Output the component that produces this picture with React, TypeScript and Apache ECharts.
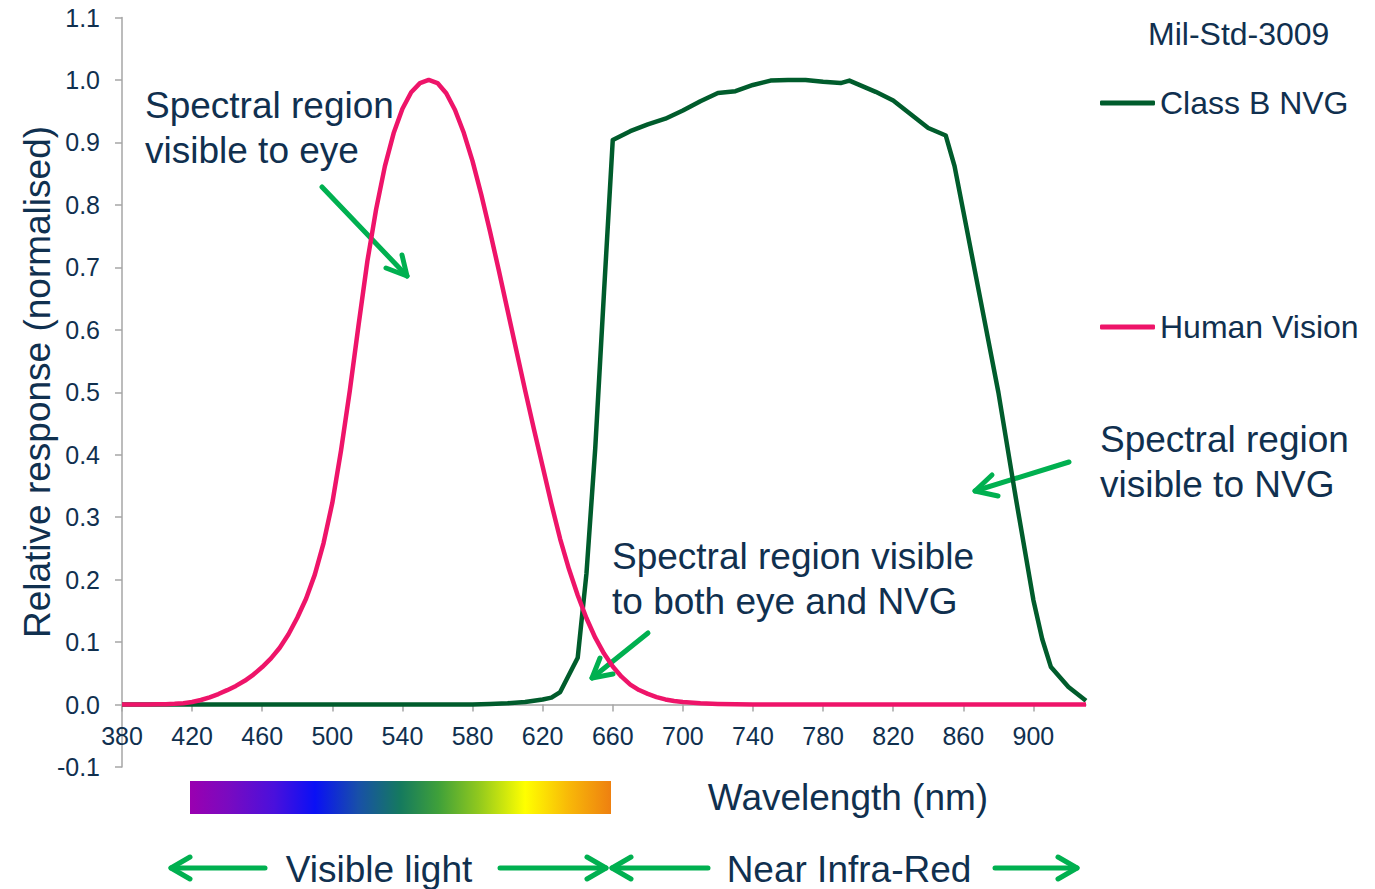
import React, { useEffect, useRef } from 'react';
import * as echarts from 'echarts';

// ---------- data ----------
const nvgWavelength = [
  380, 400, 450, 500, 550, 580, 590, 600, 610, 620, 625, 630, 640, 645, 650, 655, 660,
  670, 680, 690, 700, 710, 720, 730, 740, 750, 760, 770, 780, 790, 795, 800, 810, 820,
  830, 840, 850, 855, 860, 870, 880, 890, 900, 905, 910, 920, 930,
];
const nvgResponse = [
  0, 0, 0, 0, 0, 0, 0.001, 0.002, 0.004, 0.008, 0.011, 0.02, 0.075, 0.21, 0.41, 0.66, 0.904,
  0.918, 0.929, 0.938, 0.951, 0.966, 0.979, 0.982, 0.992, 0.999, 1.0, 1.0, 0.997, 0.995, 0.999, 0.993, 0.981, 0.967,
  0.945, 0.923, 0.911, 0.862, 0.79, 0.645, 0.5, 0.33, 0.167, 0.105, 0.06, 0.028, 0.006,
];

const eyeWavelength = [
  380, 385, 390, 395, 400, 405, 410, 415, 420, 425, 430, 435, 440, 445, 450, 455, 460, 465,
  470, 475, 480, 485, 490, 495, 500, 505, 510, 515, 520, 525, 530, 535, 540, 545, 550, 555,
  560, 565, 570, 575, 580, 585, 590, 595, 600, 605, 610, 615, 620, 625, 630, 635, 640, 645,
  650, 655, 660, 665, 670, 675, 680, 685, 690, 695, 700, 710, 720, 730, 740, 760, 800, 930,
];
const eyeResponse = [
  0.0, 0.0001, 0.0001, 0.0002, 0.0004, 0.0006, 0.0012, 0.0022, 0.004, 0.0073, 0.0116, 0.0168, 0.023, 0.0298, 0.038, 0.048, 0.06, 0.0739,
  0.091, 0.1126, 0.139, 0.1693, 0.208, 0.2586, 0.323, 0.4073, 0.503, 0.6082, 0.71, 0.7932, 0.862, 0.9149, 0.954, 0.9803, 0.995, 1.0,
  0.995, 0.9786, 0.952, 0.9154, 0.87, 0.8163, 0.757, 0.6949, 0.631, 0.5668, 0.503, 0.4412, 0.381, 0.321, 0.265, 0.217, 0.175, 0.1382,
  0.107, 0.0816, 0.061, 0.0446, 0.032, 0.0232, 0.017, 0.0119, 0.0082, 0.0057, 0.0041, 0.0021, 0.001, 0.0005, 0.0002, 0.0001, 0, 0,
];

const seriesNames = ['Class B NVG', 'Human Vision'];
const legendTitle = 'Mil-Std-3009';
const xAxisTitle = 'Wavelength (nm)';
const yAxisTitle = 'Relative response (normalised)';
const xMin = 380;
const xMax = 930;
const xStep = 40;
const yMin = -0.1;
const yMax = 1.1;
const yStep = 0.1;

// ---------- styling ----------
const FONT = '"Liberation Sans", Arial, Helvetica, sans-serif';
const NAVY = '#10304f';
const ARROW = '#00b050';
const NVG_COLOR = '#005c2c';
const EYE_COLOR = '#ee1469';
const AXIS_COLOR = '#a6a6a6';
const BIG = 37;

function txt(x: number, y: number, s: string, size = BIG, align = 'left') {
  return {
    type: 'text',
    x,
    y,
    silent: true,
    style: { text: s, fill: NAVY, fontSize: size, fontFamily: FONT, align, verticalAlign: 'middle' },
  };
}

function arrow(shaft: number[][], head: number[][]) {
  const st = { stroke: ARROW, lineWidth: 5, lineCap: 'round', lineJoin: 'round', fill: null };
  return [
    { type: 'polyline', silent: true, shape: { points: shaft }, style: st },
    { type: 'polyline', silent: true, shape: { points: head }, style: st },
  ];
}

export default function App() {
  const ref = useRef<HTMLDivElement>(null);

  useEffect(() => {
    if (!ref.current) return;
    const chart = echarts.init(ref.current, null, { renderer: 'svg' });

    const nvgData = nvgWavelength.map((w, i) => [w, nvgResponse[i]]);
    const eyeData = eyeWavelength.map((w, i) => [w, eyeResponse[i]]);

    const gridTop = 17.5;
    const gridBottom = 122;
    const plotH = 889 - gridTop - gridBottom;
    // distance from grid bottom edge up to the y = 0 line
    const zeroOffset = (plotH * (0 - yMin)) / (yMax - yMin);

    const graphics: any[] = [
      // colour spectrum bar
      {
        type: 'rect',
        silent: true,
        shape: { x: 190, y: 781, width: 421, height: 33 },
        style: {
          fill: new echarts.graphic.LinearGradient(0, 0, 1, 0, [
            { offset: 0, color: '#9a00b0' },
            { offset: 0.09, color: '#7a0ac0' },
            { offset: 0.2, color: '#4a10dc' },
            { offset: 0.297, color: '#0a10f5' },
            { offset: 0.4, color: '#1850a8' },
            { offset: 0.5, color: '#157a5e' },
            { offset: 0.59, color: '#3fa03a' },
            { offset: 0.685, color: '#90c81e' },
            { offset: 0.796, color: '#ffff00' },
            { offset: 0.9, color: '#f8b808' },
            { offset: 1, color: '#ee8010' },
          ]),
        },
      },
      {
        type: 'text',
        x: 37,
        y: 382,
        rotation: Math.PI / 2,
        silent: true,
        style: { text: yAxisTitle, fill: NAVY, fontSize: BIG, fontFamily: FONT, align: 'center', verticalAlign: 'middle' },
      },
      txt(1148, 34, legendTitle, 32),
      txt(145, 105, 'Spectral region'),
      txt(145, 150, 'visible to eye'),
      txt(612, 556, 'Spectral region visible'),
      txt(612, 601, 'to both eye and NVG'),
      txt(1100, 439, 'Spectral region'),
      txt(1100, 484, 'visible to NVG'),
      txt(848, 797, xAxisTitle, BIG, 'center'),
      txt(379, 869, 'Visible light', BIG, 'center'),
      txt(849, 869, 'Near Infra-Red', BIG, 'center'),
      ...arrow([[322, 187], [407, 276]], [[386, 268], [407, 276], [402, 255]]),
      ...arrow([[648, 633], [592, 678]], [[600, 658], [592, 678], [613, 674]]),
      ...arrow([[1069, 462], [975, 491]], [[992, 475], [975, 491], [998, 496]]),
      ...arrow([[265, 868], [171, 868]], [[190, 857], [171, 868], [190, 879]]),
      ...arrow([[500, 868], [606, 868]], [[587, 857], [606, 868], [587, 879]]),
      ...arrow([[708, 868], [612, 868]], [[631, 857], [612, 868], [631, 879]]),
      ...arrow([[995, 868], [1077, 868]], [[1058, 857], [1077, 868], [1058, 879]]),
    ];

    const legendCommon = {
      orient: 'vertical',
      left: 1100,
      padding: 0,
      icon: 'roundRect',
      itemWidth: 55,
      itemHeight: 5,
      itemGap: 0,
      selectedMode: false,
      textStyle: { fontSize: 32, color: NAVY, fontFamily: FONT, lineHeight: 36, padding: [0, 0, 0, 0] },
    };

    chart.setOption({
      animation: false,
      textStyle: { fontFamily: FONT },
      grid: { left: 122, right: 289, top: gridTop, bottom: gridBottom, containLabel: false },
      legend: [
        { ...legendCommon, top: 85, data: [seriesNames[0]] },
        { ...legendCommon, top: 309, data: [seriesNames[1]] },
      ],
      xAxis: {
        type: 'value',
        min: xMin,
        max: xMax,
        interval: xStep,
        position: 'bottom',
        offset: -zeroOffset,
        axisLine: { show: true, onZero: false, lineStyle: { color: AXIS_COLOR, width: 1.5 } },
        axisTick: { show: true, length: 7, lineStyle: { color: AXIS_COLOR, width: 1.5 } },
        axisLabel: { showMaxLabel: false, fontSize: 25, color: NAVY, margin: 19, fontFamily: FONT },
        splitLine: { show: false },
      },
      yAxis: {
        type: 'value',
        min: yMin,
        max: yMax,
        interval: yStep,
        axisLine: { show: true, onZero: false, lineStyle: { color: AXIS_COLOR, width: 1.5 } },
        axisTick: { show: true, length: 7, lineStyle: { color: AXIS_COLOR, width: 1.5 } },
        axisLabel: {
          fontSize: 25,
          color: NAVY,
          margin: 22,
          fontFamily: FONT,
          formatter: (v: number) => v.toFixed(1),
        },
        splitLine: { show: false },
      },
      graphic: graphics,
      series: [
        {
          name: seriesNames[0],
          type: 'line',
          data: nvgData,
          showSymbol: false,
          symbol: 'none',
          lineStyle: { color: NVG_COLOR, width: 4.5, join: 'round' },
          itemStyle: { color: NVG_COLOR },
        },
        {
          name: seriesNames[1],
          type: 'line',
          data: eyeData,
          showSymbol: false,
          symbol: 'none',
          lineStyle: { color: EYE_COLOR, width: 4.5, join: 'round' },
          itemStyle: { color: EYE_COLOR },
        },
      ],
    });

    return () => chart.dispose();
  }, []);

  return (
    <div
      ref={ref}
      style={{ position: 'fixed', left: 0, top: 0, width: 1375, height: 889, background: '#ffffff' }}
    />
  );
}
